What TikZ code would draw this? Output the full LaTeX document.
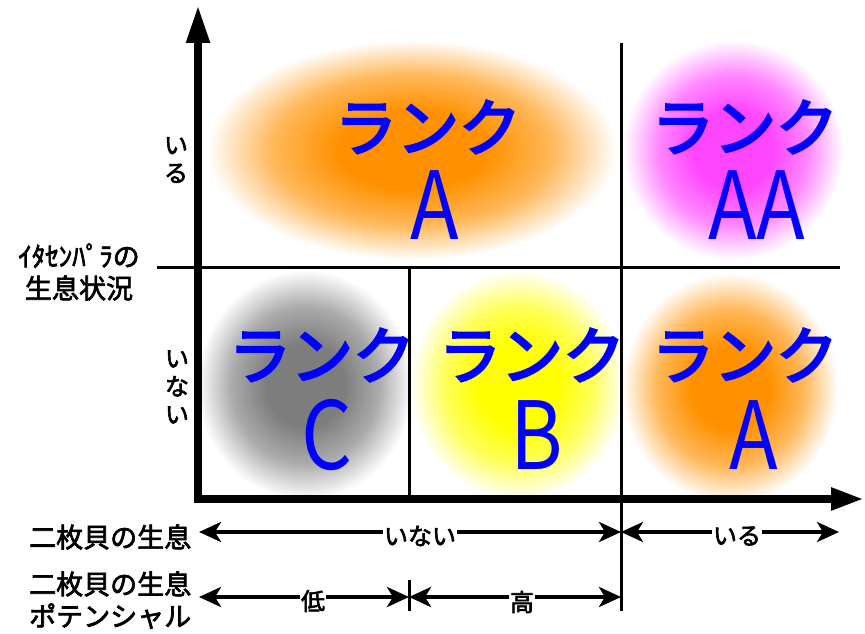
\documentclass[tikz,border=0pt]{standalone}
\usepackage{fontspec}
\setmainfont{Noto Sans CJK JP}
\newfontfamily\rankfont[FakeBold=4]{Noto Sans CJK JP}
\newfontfamily\labfont[FakeBold=2.5]{Noto Sans CJK JP}
\usetikzlibrary{arrows.meta}
\definecolor{rankblue}{RGB}{0,0,255}
\definecolor{cOrange}{RGB}{255,145,0}
\definecolor{cMagenta}{RGB}{255,70,255}
\definecolor{cGrey}{RGB}{125,125,125}
\definecolor{cYellow}{RGB}{255,255,0}
\pgfdeclareradialshading{blobOrange}{\pgfpoint{0bp}{0bp}}{color(0bp)=(cOrange); color(9bp)=(cOrange); color(17bp)=(cOrange!65!white); color(25bp)=(white); color(50bp)=(white)}
\pgfdeclareradialshading{blobMagenta}{\pgfpoint{0bp}{0bp}}{color(0bp)=(cMagenta); color(9bp)=(cMagenta); color(17bp)=(cMagenta!65!white); color(25bp)=(white); color(50bp)=(white)}
\pgfdeclareradialshading{blobGrey}{\pgfpoint{0bp}{0bp}}{color(0bp)=(cGrey); color(9bp)=(cGrey); color(17bp)=(cGrey!65!white); color(25bp)=(white); color(50bp)=(white)}
\pgfdeclareradialshading{blobYellow}{\pgfpoint{0bp}{0bp}}{color(0bp)=(cYellow); color(9bp)=(cYellow); color(17bp)=(cYellow!65!white); color(25bp)=(white); color(50bp)=(white)}
\tikzset{
  ranktext/.style={text=rankblue, inner sep=0pt, font=\fontsize{62}{62}\rankfont},
  rankletter/.style={text=rankblue, inner sep=0pt, font=\fontsize{94}{94}\selectfont},
  axis/.style={line width=8pt},
  divider/.style={line width=3pt},
  labeltext/.style={inner sep=0pt, font=\fontsize{27}{32}\labfont, align=center},
  smalltext/.style={inner sep=1pt, font=\fontsize{24}{28}\labfont},
  vtext/.style={inner sep=0pt, font=\fontsize{24}{28}\labfont, align=center},
  dimarrow/.style={line width=4pt, -{Stealth[length=22pt,width=20pt,inset=6pt]}},
}
\begin{document}
\begin{tikzpicture}[x=1pt,y=-1pt]
\useasboundingbox (0,0) rectangle (865,634);
% blobs
\shade[shading=blobOrange] (412,150) ellipse [x radius=205pt, y radius=110pt];
\shade[shading=blobMagenta] (733,150) ellipse [x radius=110pt, y radius=110pt];
\shade[shading=blobGrey] (305,385) ellipse [x radius=108pt, y radius=115pt];
\shade[shading=blobYellow] (518,385) ellipse [x radius=108pt, y radius=115pt];
\shade[shading=blobOrange] (730,388) ellipse [x radius=108pt, y radius=115pt];
% rank texts
\node[ranktext] (r1) at (428,127) {ランク};
\node[rankletter] (l1) at (435,205) {\scalebox{0.85}[1]{A}};
\node[ranktext] (r2) at (745,127) {ランク};
\node[rankletter] (l2) at (757,205) {\scalebox{0.85}[1]{AA}};
\node[ranktext] (r3) at (322,355) {ランク};
\node[rankletter] (l3) at (327,435) {\scalebox{0.85}[1]{C}};
\node[ranktext] (r4) at (532,355) {ランク};
\node[rankletter] (l4) at (537,435) {\scalebox{0.85}[1]{B}};
\node[ranktext] (r5) at (745,355) {ランク};
\node[rankletter] (l5) at (754,435) {\scalebox{0.85}[1]{A}};
% coordinates
\coordinate (o) at (198,499);
\coordinate (ytop) at (198,5);
\coordinate (xend) at (864,499);
\coordinate (hL) at (157,267);
\coordinate (hR) at (840,267);
\coordinate (vTop) at (621,43);
\coordinate (vBot) at (621,611);
\coordinate (mTop) at (409,267);
\coordinate (mBot) at (409,499);
\coordinate (tTop) at (409,580);
\coordinate (tBot) at (409,611);
% dividers
\draw[divider] (hL) -- (hR);
\draw[divider] (vTop) -- (vBot);
\draw[divider] (mTop) -- (mBot);
\draw[divider] (tTop) -- (tBot);
% axes
\draw[axis, -{Triangle[length=38pt,width=22pt]}] (o) -- (ytop);
\draw[axis, -{Triangle[length=33pt,width=21pt]}] ([xshift=-4pt]o) -- (xend);
% left labels
\node[labeltext] (ita) at (79,272) {ｲﾀｾﾝﾊﾟﾗの\\生息状況};
\node[vtext] (iru) at (176,160) {い\\る};
\node[vtext] (inai) at (177,387) {い\\な\\い};
\node[labeltext, anchor=west] (nimai1) at (29,537) {二枚貝の生息};
\node[labeltext, anchor=west, align=left] (nimai2) at (29,600) {二枚貝の生息\\ポテンシャル};
% bottom arrows row 1
\coordinate (a1L) at (199,532);
\coordinate (a1M) at (621,532);
\coordinate (a1R) at (839,532);
\node[smalltext] (t1) at (420,536) {いない};
\node[smalltext] (t2) at (737,536) {いる};
\draw[dimarrow] (t1.west |- a1L) -- (a1L);
\draw[dimarrow] (t1.east |- a1L) -- (a1M);
\draw[dimarrow] (t2.west |- a1L) -- (a1M);
\draw[dimarrow] (t2.east |- a1L) -- (a1R);
% bottom arrows row 2
\coordinate (a2L) at (199,597);
\coordinate (a2M) at (409,597);
\coordinate (a2R) at (621,597);
\node[smalltext] (t3) at (313,601) {低};
\node[smalltext] (t4) at (522,602) {高};
\draw[dimarrow] (t3.west |- a2L) -- (a2L);
\draw[dimarrow] (t3.east |- a2L) -- (a2M);
\draw[dimarrow] (t4.west |- a2L) -- (a2M);
\draw[dimarrow] (t4.east |- a2L) -- (a2R);
\end{tikzpicture}
\end{document}
